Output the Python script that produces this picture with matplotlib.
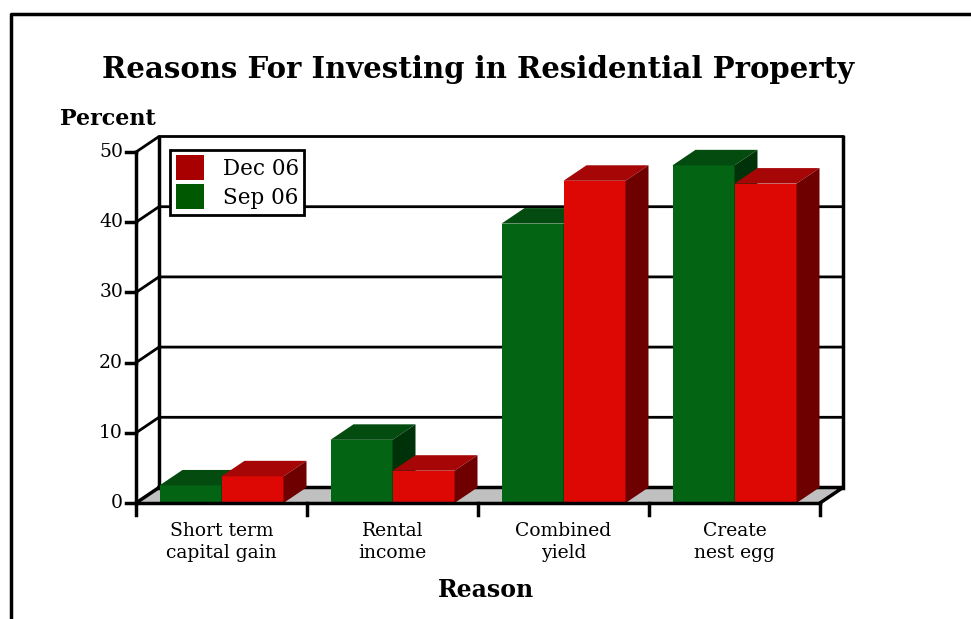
import matplotlib
matplotlib.use("Agg")
import matplotlib.pyplot as plt
from matplotlib.patches import Polygon, Patch
from matplotlib.lines import Line2D

# data
categories = ["Short term\ncapital gain", "Rental\nincome", "Combined\nyield", "Create\nnest egg"]
sep06 = [2.5, 9.0, 39.8, 48.1]
dec06 = [3.8, 4.6, 45.9, 45.5]
y_ticks = [0, 10, 20, 30, 40, 50]

green = {"front": "#036414", "top": "#044b10", "side": "#00320a"}
red = {"front": "#dd0804", "top": "#a60606", "side": "#6e0000"}

plt.rcParams['font.family'] = ['DejaVu Serif']

W, H = 971, 619
fig = plt.figure(figsize=(W / 100, H / 100), dpi=100)
ax = fig.add_axes([136 / W, (H - 503) / H, 684 / W, 351 / H])
ax.set_xlim(0, len(categories))
ax.set_ylim(0, 50)
ax.axis("off")

# depth offset of the 3d look, in data units
dx = 23 / 171
dy = 15.5 / 7.02
n = len(categories)
top = y_ticks[-1]

# floor
ax.add_patch(Polygon([(0, 0), (n, 0), (n + dx, dy), (dx, dy)], closed=True,
                     facecolor="#c0c0c0", edgecolor="none", clip_on=False, zorder=1))
ax.plot([dx, n + dx, n], [dy, dy, 0], color="black", lw=2.5, clip_on=False, zorder=2)

# back wall and gridlines
for v in y_ticks[1:]:
    ax.plot([0, dx, n + dx], [v, v + dy, v + dy], color="black", lw=2, clip_on=False, zorder=2)
ax.plot([dx, dx], [dy, top + dy], color="black", lw=2.5, clip_on=False, zorder=2)
ax.plot([n + dx, n + dx], [dy, top + dy], color="black", lw=2.5, clip_on=False, zorder=2)
ax.plot([0, dx], [0, dy], color="black", lw=2.5, clip_on=False, zorder=2)

# front axes
ax.plot([0, 0], [0, top], color="black", lw=2.5, clip_on=False, zorder=2)
ax.plot([0, n], [0, 0], color="black", lw=2.5, clip_on=False, zorder=6)
for v in y_ticks:
    ax.plot([-10 / 171, 0], [v, v], color="black", lw=2.5, clip_on=False, zorder=2)
    ax.text(-13 / 171, v, str(v), ha="right", va="center", fontsize=13.5)
for i in range(n + 1):
    ax.plot([i, i], [0, -12 / 7.02], color="black", lw=2.5, clip_on=False, zorder=2)


def bar3d(x0, w, h, c):
    ax.add_patch(Polygon([(x0, 0), (x0 + w, 0), (x0 + w, h), (x0, h)],
                         facecolor=c["front"], edgecolor="none", clip_on=False, zorder=4))
    ax.add_patch(Polygon([(x0, h), (x0 + w, h), (x0 + w + dx, h + dy), (x0 + dx, h + dy)],
                         facecolor=c["top"], edgecolor="none", clip_on=False, zorder=4))
    ax.add_patch(Polygon([(x0 + w, 0), (x0 + w + dx, dy), (x0 + w + dx, h + dy), (x0 + w, h)],
                         facecolor=c["side"], edgecolor="none", clip_on=False, zorder=4))


bw = 62 / 171
for i in range(n):
    c = i + 0.5
    bar3d(c - bw, bw, sep06[i], green)
    bar3d(c, bw, dec06[i], red)
    ax.text(c, -19 / 7.02, categories[i], ha="center", va="top", fontsize=13.5, linespacing=1.25)

# legend
handles = [Patch(facecolor="#a80000", edgecolor="none", label="Dec 06"),
           Patch(facecolor="#005800", edgecolor="none", label="Sep 06")]
leg = ax.legend(handles=handles, loc="upper left", bbox_to_anchor=(0.05, 1.006),
                fontsize=15.5, frameon=True, fancybox=False, framealpha=1,
                handlelength=1.3, handleheight=1.4, handletextpad=0.9,
                borderpad=0.25, labelspacing=0.2, borderaxespad=0)
leg.get_frame().set_edgecolor("black")
leg.get_frame().set_linewidth(2)
leg.set_zorder(10)

# titles
fig.text(478 / W, 1 - 70 / H, "Reasons For Investing in Residential Property",
         ha="center", va="center", fontsize=21, fontweight="bold")
fig.text(60 / W, 1 - 119 / H, "Percent", ha="left", va="center", fontsize=16, fontweight="bold")
fig.text(486 / W, 1 - 590 / H, "Reason", ha="center", va="center", fontsize=17, fontweight="bold")

# outer frame
fig.add_artist(Line2D([11 / W, 11 / W, 1], [0, 1 - 14 / H, 1 - 14 / H], color="black", lw=2.5,
                      transform=fig.transFigure))

fig.savefig("out.png", dpi=100)
